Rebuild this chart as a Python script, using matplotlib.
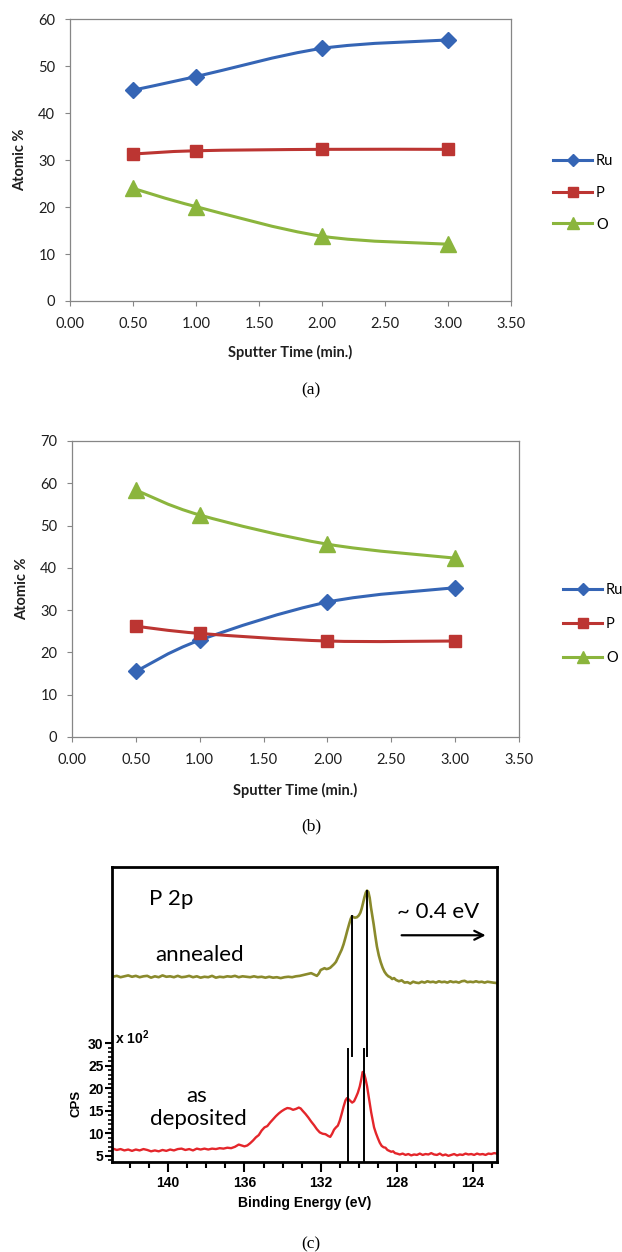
import numpy as np
import matplotlib
matplotlib.use("Agg")
import matplotlib.pyplot as plt
from matplotlib.path import Path
from matplotlib.patches import PathPatch
from matplotlib.lines import Line2D
from matplotlib.ticker import FixedLocator, MultipleLocator

plt.rcParams["mathtext.fontset"] = "custom"
plt.rcParams["mathtext.rm"] = "Liberation Sans:bold"
plt.rcParams["mathtext.it"] = "Liberation Sans:bold"
plt.rcParams["mathtext.bf"] = "Liberation Sans:bold"

# --- depth profiles (XPS, atomic %) ---
sputter_min = [0.5, 1.0, 2.0, 3.0]

ru_a = [44.9, 47.8, 53.8, 55.6]
p_a = [31.3, 32.0, 32.3, 32.3]
o_a = [24.0, 20.1, 13.8, 12.1]

ru_b = [15.5, 22.9, 31.9, 35.3]
p_b = [26.2, 24.5, 22.7, 22.7]
o_b = [58.4, 52.5, 45.6, 42.3]

# --- P 2p spectra (CPS x 10^2, annealed trace offset upward) ---
ev_dep = [142.9, 142.7, 142.5, 142.3, 142.1, 141.9, 141.7, 141.5, 141.3, 141.1,
          140.9, 140.7, 140.5, 140.3, 140.1, 139.9, 139.7, 139.5, 139.3, 139.1,
          138.9, 138.7, 138.5, 138.3, 138.1, 137.9, 137.7, 137.5, 137.3, 137.1,
          136.9, 136.7, 136.5, 136.3, 136.15, 136.0, 135.85, 135.7, 135.55, 135.4,
          135.25, 135.1, 134.95, 134.8, 134.65, 134.5, 134.35, 134.2, 134.05, 133.9,
          133.75, 133.6, 133.45, 133.3, 133.15, 133.05, 132.95, 132.8, 132.65, 132.5,
          132.35, 132.2, 132.05, 131.9, 131.75, 131.6, 131.5, 131.4, 131.3, 131.2,
          131.1, 131.0, 130.9, 130.8, 130.7, 130.62, 130.55, 130.45, 130.35, 130.25,
          130.15, 130.05, 129.95, 129.87, 129.8, 129.72, 129.65, 129.57, 129.5, 129.42,
          129.35, 129.27, 129.2, 129.1, 129.0, 128.9, 128.8, 128.7, 128.6, 128.5,
          128.4, 128.3, 128.2, 128.1, 128.0, 127.85, 127.7, 127.55, 127.4, 127.25,
          127.1, 126.95, 126.8, 126.65, 126.5, 126.35, 126.2, 126.05, 125.9, 125.75,
          125.6, 125.45, 125.3, 125.15, 125.0, 124.85, 124.7, 124.55, 124.4, 124.25,
          124.1, 123.95, 123.8, 123.65, 123.5, 123.35, 123.2, 123.05, 122.9, 122.75]
cps_dep = [6.6, 6.3, 6.5, 6.2, 6.4, 6.1, 6.4, 6.2, 6.5, 6.3,
           6.0, 6.2, 6.0, 6.3, 6.1, 6.4, 6.2, 6.5, 6.6, 6.3,
           6.5, 6.2, 6.6, 6.4, 6.6, 6.4, 6.6, 6.5, 6.7, 6.6,
           6.8, 6.7, 7.0, 7.5, 7.3, 7.1, 7.3, 7.8, 8.4, 9.1,
           9.6, 10.6, 11.3, 11.6, 12.4, 13.1, 13.8, 14.4, 14.9, 15.3,
           15.6, 15.5, 15.2, 15.4, 15.7, 15.5, 15.0, 14.3, 13.5, 12.6,
           11.8, 10.9, 10.2, 9.9, 9.8, 9.4, 9.2, 9.9, 10.8, 11.3,
           11.7, 12.8, 14.3, 15.9, 17.3, 17.8, 17.6, 17.2, 16.8, 17.1,
           18.0, 19.0, 20.4, 22.0, 23.6, 23.2, 22.1, 20.5, 18.6, 16.5,
           14.6, 12.8, 11.3, 10.0, 8.9, 7.9, 7.2, 6.9, 6.8, 6.3,
           6.1, 5.9, 6.0, 5.6, 5.5, 5.3, 5.5, 5.2, 5.4, 5.1,
           5.3, 5.2, 5.5, 5.2, 5.4, 5.3, 5.6, 5.3, 5.2, 5.5,
           5.1, 5.3, 5.0, 5.2, 5.4, 5.1, 5.3, 5.2, 5.5, 5.3,
           5.4, 5.2, 5.5, 5.3, 5.4, 5.2, 5.5, 5.4, 5.6, 5.5]

ev_ann = [142.9, 142.7, 142.5, 142.3, 142.1, 141.9, 141.7, 141.5, 141.3, 141.1,
          140.9, 140.7, 140.5, 140.3, 140.1, 139.9, 139.7, 139.5, 139.3, 139.1,
          138.9, 138.7, 138.5, 138.3, 138.1, 137.9, 137.7, 137.5, 137.3, 137.1,
          136.9, 136.7, 136.5, 136.3, 136.1, 135.9, 135.7, 135.5, 135.3, 135.1,
          134.9, 134.7, 134.5, 134.3, 134.1, 133.9, 133.7, 133.5, 133.3, 133.1,
          132.9, 132.7, 132.5, 132.35, 132.2, 132.1, 132.0, 131.9, 131.8, 131.7,
          131.6, 131.5, 131.4, 131.3, 131.2, 131.1, 131.0, 130.9, 130.8, 130.7,
          130.6, 130.5, 130.42, 130.36, 130.28, 130.2, 130.1, 130.0, 129.92, 129.85,
          129.78, 129.7, 129.63, 129.57, 129.5, 129.43, 129.36, 129.3, 129.22, 129.14,
          129.05, 128.95, 128.85, 128.75, 128.65, 128.55, 128.45, 128.35, 128.25, 128.15,
          128.05, 127.9, 127.75, 127.6, 127.45, 127.3, 127.15, 127.0, 126.85, 126.7,
          126.55, 126.4, 126.25, 126.1, 125.95, 125.8, 125.65, 125.5, 125.35, 125.2,
          125.05, 124.9, 124.75, 124.6, 124.45, 124.3, 124.15, 124.0, 123.85, 123.7,
          123.55, 123.4, 123.25, 123.1, 122.95, 122.75]
cps_ann = [44.7, 44.9, 44.6, 44.8, 45.0, 44.7, 44.9, 44.6, 44.8, 44.9,
           44.5, 44.8, 44.6, 45.0, 44.7, 44.8, 44.6, 44.9, 44.6, 44.7,
           44.9, 44.6, 44.8, 44.5, 44.7, 44.6, 44.9, 44.5, 44.7, 44.6,
           44.8, 44.7, 44.9, 44.6, 44.8, 44.7, 44.6, 44.8, 44.6, 44.7,
           44.5, 44.7, 44.5, 44.6, 44.4, 44.6, 44.7, 44.6, 44.8, 44.9,
           45.1, 45.3, 45.5, 45.2, 44.9, 45.4, 46.2, 46.4, 46.6, 46.4,
           46.5, 46.7, 47.1, 47.5, 48.0, 48.9, 49.8, 50.7, 51.9, 53.4,
           55.0, 56.5, 57.6, 58.1, 57.9, 57.8, 57.9, 58.3, 58.9, 59.8,
           61.0, 62.4, 63.4, 63.8, 63.5, 62.2, 60.0, 58.4, 56.3, 53.9,
           51.4, 49.4, 47.9, 46.7, 45.8, 45.2, 44.8, 44.6, 44.2, 44.4,
           44.0, 43.7, 43.9, 43.4, 43.5, 43.2, 43.6, 43.4, 43.3, 43.6,
           43.4, 43.7, 43.5, 43.6, 43.4, 43.7, 43.5, 43.6, 43.4, 43.7,
           43.5, 43.6, 43.4, 43.7, 43.8, 43.5, 43.6, 43.5, 43.7, 43.5,
           43.6, 43.4, 43.6, 43.5, 43.4, 43.3]

# peak markers: annealed pair and as-deposited pair
ann_peak_ev = [130.36, 129.57]
ann_peak_top = [58.1, 63.8]
ann_peak_bottom = 27.2
dep_peak_ev = [130.59, 129.73]
dep_peak_top = 28.7

BLUE = "#3565b5"
RED = "#bc3532"
GREEN = "#8bb53d"
GRID_GREY = "#868686"
EXCEL_FONT = "Lato"

W, H = 622, 1252


def fig_rect(x0, y0, x1, y1):
    """pixel box (top-left origin) -> figure fraction rect"""
    return [x0 / W, 1 - y1 / H, (x1 - x0) / W, (y1 - y0) / H]


def smooth_path(x, y):
    # Excel-style smoothed line: cubic Bezier through each point
    pts = np.column_stack([x, y]).astype(float)
    n = len(pts)
    verts = [pts[0]]
    codes = [Path.MOVETO]
    for i in range(n - 1):
        p0 = pts[max(i - 1, 0)]
        p1 = pts[i]
        p2 = pts[i + 1]
        p3 = pts[min(i + 2, n - 1)]
        verts += [p1 + (p2 - p0) / 6, p2 - (p3 - p1) / 6, p2]
        codes += [Path.CURVE4] * 3
    return Path(verts, codes)


def profile_panel(fig, rect, ru, p, o, ymax, legend_xy, legend_gap,
                  xlab_y, ylab_x):
    ax = fig.add_axes(rect)
    series = [
        ("Ru", ru, BLUE, "D", 8.0, 6.0),
        ("P", p, RED, "s", 9.0, 7.0),
        ("O", o, GREEN, "^", 11.0, 8.5),
    ]
    handles = []
    for name, vals, col, mk, ms, ms_leg in series:
        ax.add_patch(PathPatch(smooth_path(sputter_min, vals), fill=False,
                               edgecolor=col, lw=2.2, capstyle="round",
                               joinstyle="round", zorder=2))
        ax.plot(sputter_min, vals, ls="none", marker=mk, ms=ms, color=col,
                mec=col, zorder=3)
        handles.append(Line2D([], [], color=col, lw=2.2, marker=mk,
                              ms=ms_leg, mec=col, label=name))

    ax.set_xlim(0, 3.5)
    ax.set_ylim(0, ymax)
    ax.set_xticks(np.arange(0, 3.51, 0.5))
    ax.set_xticklabels([f"{t:.2f}" for t in np.arange(0, 3.51, 0.5)])
    ax.set_yticks(np.arange(0, ymax + 1, 10))
    for s in ax.spines.values():
        s.set_color(GRID_GREY)
        s.set_linewidth(0.9)
    ax.tick_params(direction="out", length=3.6, width=0.8, color=GRID_GREY,
                   labelsize=10.5, labelcolor="#1e1e1e")
    ax.tick_params(axis="x", pad=8)
    ax.tick_params(axis="y", pad=7)
    for lab in ax.get_xticklabels() + ax.get_yticklabels():
        lab.set_family(EXCEL_FONT)

    ax.set_xlabel("Sputter Time (min.)", family=EXCEL_FONT, fontweight="bold",
                  fontsize=10.5, color="#1e1e1e")
    ax.set_ylabel("Atomic %", family=EXCEL_FONT, fontweight="bold",
                  fontsize=10.5, color="#1e1e1e")
    ax.xaxis.set_label_coords(0.5, xlab_y)
    ax.yaxis.set_label_coords(ylab_x, 0.5)

    ax.legend(handles=handles, loc="upper left",
              bbox_to_anchor=(legend_xy[0] / W, 1 - legend_xy[1] / H),
              bbox_transform=fig.transFigure, frameon=False,
              prop={"family": EXCEL_FONT, "size": 10.5},
              handlelength=2.7, handletextpad=0.25, labelspacing=legend_gap,
              borderpad=0, borderaxespad=0)
    return ax


fig = plt.figure(figsize=(W / 100, H / 100), dpi=100)

profile_panel(fig, fig_rect(70, 19.3, 511, 301), ru_a, p_a, o_a, 60,
              (553, 154), 1.22, -0.156, -0.0975)
profile_panel(fig, fig_rect(72, 441, 519, 737), ru_b, p_b, o_b, 70,
              (563, 583), 1.36, -0.155, -0.096)

# --- panel (c): P 2p core level ---
axc = fig.add_axes(fig_rect(112, 866.7, 497, 1161.7))
axc.plot(ev_ann, cps_ann, color="#8a8a2c", lw=1.9, zorder=2)
axc.plot(ev_dep, cps_dep, color="#e4262b", lw=1.7, zorder=2)
for e, top in zip(ann_peak_ev, ann_peak_top):
    axc.plot([e, e], [ann_peak_bottom, top], color="black", lw=1.4, zorder=3)
for e in dep_peak_ev:
    axc.plot([e, e], [3.7, dep_peak_top], color="black", lw=1.4, zorder=3)

axc.set_xlim(142.95, 122.75)
axc.set_ylim(3.7, 69.1)
for s in axc.spines.values():
    s.set_color("black")
    s.set_linewidth(2.0)

axc.xaxis.set_major_locator(FixedLocator([140, 136, 132, 128, 124]))
axc.xaxis.set_minor_locator(MultipleLocator(1))
axc.yaxis.set_major_locator(FixedLocator([5, 10, 15, 20, 25, 30]))
axc.yaxis.set_minor_locator(FixedLocator([v for v in range(4, 30) if v % 5]))
axc.tick_params(which="major", direction="out", length=7, width=1.5,
                labelsize=10, pad=3.5)
axc.tick_params(which="minor", direction="out", length=4.5, width=1.5)
axc.tick_params(axis="y", which="major", length=5, pad=1)
axc.tick_params(axis="y", which="minor", length=3, width=1.2)
for lab in axc.get_xticklabels() + axc.get_yticklabels():
    lab.set_family("Liberation Sans")
    lab.set_fontweight("bold")

axc.set_xlabel("Binding Energy (eV)", family="Liberation Sans",
               fontweight="bold", fontsize=10)
axc.xaxis.set_label_coords(0.5, -0.117)
axc.set_ylabel("CPS", family="Liberation Sans", fontweight="bold", fontsize=9.5)
axc.yaxis.set_label_coords(-0.076, 0.199)

axc.text(142.8, 29.8, r"x 10$^{2}$", family="Liberation Sans",
         fontweight="bold", fontsize=10, ha="left", va="baseline")
axc.text(139.86, 60.65, "P 2p", family=EXCEL_FONT, fontsize=16,
         ha="center", va="baseline")
axc.text(138.33, 48.1, "annealed", family=EXCEL_FONT, fontsize=16,
         ha="center", va="baseline")
axc.text(138.51, 17.0, "as", family=EXCEL_FONT, fontsize=16,
         ha="center", va="baseline")
axc.text(138.44, 11.9, "deposited", family=EXCEL_FONT, fontsize=16,
         ha="center", va="baseline")
axc.text(128.0, 57.7, "~ 0.4 eV", family=EXCEL_FONT, fontsize=16,
         ha="left", va="baseline")
axc.annotate("", xy=(123.2, 53.9), xytext=(127.9, 53.9),
             arrowprops=dict(arrowstyle="->", lw=1.6, color="black",
                             mutation_scale=16))

# panel captions
for label, ypix in [("(a)", 390), ("(b)", 826), ("(c)", 1244)]:
    fig.text(311 / W, 1 - ypix / H, label, family="Liberation Serif",
             fontsize=12.5, ha="center", va="center")

fig.savefig("out.png", dpi=100)
